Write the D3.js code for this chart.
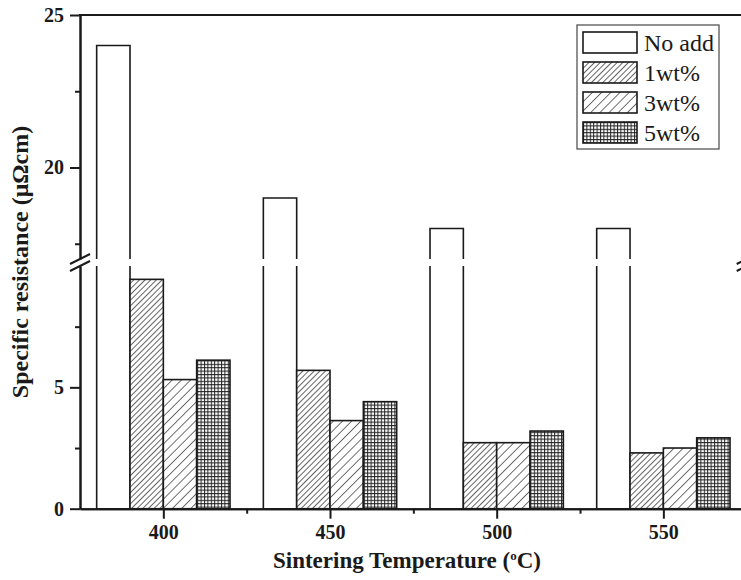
<!DOCTYPE html>
<html>
<head>
<meta charset="utf-8">
<script src="https://cdn.jsdelivr.net/npm/d3@7"></script>
<style>
  body { margin: 0; background: #fff; }
  text { font-family: "Liberation Serif", "Times New Roman", serif; fill: #1a1a1a; }
  .axis text { font-weight: bold; font-size: 20px; }
  .axis path, .axis line { stroke: #1a1a1a; stroke-width: 2; }
</style>
</head>
<body>
<div id="chart"></div>
<script>
// data
const temps = [400, 450, 500, 550];
const seriesNames = ["No add", "1wt%", "3wt%", "5wt%"];
const noAdd = [24.0, 19.0, 18.0, 18.0];
const wt1 = [9.45, 5.7, 2.72, 2.3];
const wt3 = [5.32, 3.63, 2.72, 2.5];
const wt5 = [6.12, 4.41, 3.2, 2.92];
const seriesValues = [noAdd, wt1, wt3, wt5];

const lowTicks = [0, 5];
const lowMinor = [2.5, 7.5];
const highTicks = [20, 25];
const highMinor = [17.5, 22.5];
const xMinor = [425, 475, 525];

const width = 741, height = 580;
const ink = "#1a1a1a";

const svg = d3.select("#chart").append("svg")
  .attr("width", width)
  .attr("height", height);

// patterns for the bar fills
const defs = svg.append("defs");
function hatch(id, gap, sw) {
  const p = defs.append("pattern")
    .attr("id", id)
    .attr("patternUnits", "userSpaceOnUse")
    .attr("width", gap).attr("height", gap)
    .attr("patternTransform", "rotate(45)");
  p.append("rect").attr("width", gap).attr("height", gap).attr("fill", "#fff");
  p.append("line").attr("x1", 0).attr("y1", 0).attr("x2", 0).attr("y2", gap)
    .attr("stroke", "#222").attr("stroke-width", sw);
}
hatch("h1", 4, 1.4);
hatch("h3", 6.5, 1.3);
const grid = defs.append("pattern")
  .attr("id", "g5")
  .attr("patternUnits", "userSpaceOnUse")
  .attr("width", 3.4).attr("height", 3.4);
grid.append("rect").attr("width", 3.4).attr("height", 3.4).attr("fill", "#fff");
grid.append("path").attr("d", "M0,0.5H3.4M0.5,0V3.4")
  .attr("stroke", "#222").attr("stroke-width", 1);
const fills = ["#fff", "url(#h1)", "url(#h3)", "url(#g5)"];

// scales: broken y axis made of two linear pieces
const x = d3.scaleLinear().domain([375, 575]).range([80, 746.7]);
const yLow = d3.scaleLinear().domain([0, 10]).range([508.7, 266]);
const yHigh = d3.scaleLinear().domain([17, 25]).range([259, 15]);
const barW = x(385) - x(375);
const inner = d3.scaleBand().domain(seriesNames).range([-2 * barW, 2 * barW]);

// bars
const bars = [];
seriesValues.forEach((vals, si) => {
  vals.forEach((v, ti) => bars.push({ s: seriesNames[si], si, t: temps[ti], v }));
});

const barG = svg.append("g");
bars.forEach(d => {
  const x0 = x(d.t) + inner(d.s);
  const x1 = x0 + inner.bandwidth();
  if (d.v <= 10) {
    barG.append("rect")
      .attr("x", x0).attr("y", yLow(d.v))
      .attr("width", x1 - x0).attr("height", yLow(0) - yLow(d.v))
      .attr("fill", fills[d.si])
      .attr("stroke", ink).attr("stroke-width", 1.6);
  } else {
    // lower piece: sides only, open at the break
    barG.append("rect")
      .attr("x", x0).attr("y", yLow.range()[1])
      .attr("width", x1 - x0).attr("height", yLow(0) - yLow.range()[1])
      .attr("fill", fills[d.si]);
    barG.append("path")
      .attr("d", `M${x0},${yLow.range()[1]}V${yLow(0)}H${x1}V${yLow.range()[1]}`)
      .attr("fill", "none").attr("stroke", ink).attr("stroke-width", 1.6);
    // upper piece
    barG.append("rect")
      .attr("x", x0).attr("y", yHigh(d.v))
      .attr("width", x1 - x0).attr("height", yHigh.range()[0] - yHigh(d.v))
      .attr("fill", fills[d.si]);
    barG.append("path")
      .attr("d", `M${x0},${yHigh.range()[0]}V${yHigh(d.v)}H${x1}V${yHigh.range()[0]}`)
      .attr("fill", "none").attr("stroke", ink).attr("stroke-width", 1.6);
  }
});

// axes
const left = x.range()[0];
const right = x.range()[1];

svg.append("g").attr("class", "axis")
  .attr("transform", `translate(${left},0)`)
  .call(d3.axisLeft(yLow).tickValues(lowTicks).tickSize(10).tickSizeOuter(0).tickPadding(6));
svg.append("g").attr("class", "axis")
  .attr("transform", `translate(${left},0)`)
  .call(d3.axisLeft(yLow).tickValues(lowMinor).tickSize(5).tickSizeOuter(0).tickFormat(""));
svg.append("g").attr("class", "axis")
  .attr("transform", `translate(${left},0)`)
  .call(d3.axisLeft(yHigh).tickValues(highTicks).tickSize(10).tickSizeOuter(0).tickPadding(6));
svg.append("g").attr("class", "axis")
  .attr("transform", `translate(${left},0)`)
  .call(d3.axisLeft(yHigh).tickValues(highMinor).tickSize(5).tickSizeOuter(0).tickFormat(""));

// right axis (mostly off canvas) and top frame line
svg.append("line")
  .attr("x1", right).attr("x2", right).attr("y1", yHigh.range()[1]).attr("y2", yHigh.range()[0])
  .attr("stroke", ink).attr("stroke-width", 2);
svg.append("line")
  .attr("x1", right).attr("x2", right).attr("y1", yLow.range()[1]).attr("y2", yLow.range()[0])
  .attr("stroke", ink).attr("stroke-width", 2);
svg.append("line")
  .attr("x1", left - 1).attr("x2", right).attr("y1", yHigh(25)).attr("y2", yHigh(25))
  .attr("stroke", ink).attr("stroke-width", 2);

svg.append("g").attr("class", "axis")
  .attr("transform", `translate(0,${yLow(0)})`)
  .call(d3.axisBottom(x).tickValues(temps).tickSize(10).tickSizeOuter(0).tickPadding(6)
    .tickFormat(d3.format("d")));
svg.append("g").attr("class", "axis")
  .attr("transform", `translate(0,${yLow(0)})`)
  .call(d3.axisBottom(x).tickValues(xMinor).tickSize(5).tickSizeOuter(0).tickFormat(""));

// break marks on both vertical axes
[left, right].forEach(ax => {
  [yHigh.range()[0], yLow.range()[1]].forEach(yy => {
    svg.append("line")
      .attr("x1", ax - 10).attr("y1", yy + 5)
      .attr("x2", ax + 10).attr("y2", yy - 5)
      .attr("stroke", ink).attr("stroke-width", 2);
  });
});

// axis titles
svg.append("text")
  .attr("x", 407).attr("y", 568)
  .attr("text-anchor", "middle")
  .style("font-size", "23px").style("font-weight", "bold")
  .html('Sintering Temperature (<tspan dy="-8" font-size="13px">o</tspan><tspan dy="8">C)</tspan>');

svg.append("text")
  .attr("transform", "translate(28,262) rotate(-90)")
  .attr("text-anchor", "middle")
  .style("font-size", "24px").style("font-weight", "bold")
  .text("Specific resistance (\u03bc\u03a9cm)");

// legend
const lg = svg.append("g").attr("transform", "translate(577,25)");
lg.append("rect")
  .attr("width", 142).attr("height", 124)
  .attr("fill", "#fff").attr("stroke", "#555").attr("stroke-width", 1.3);
seriesNames.forEach((name, i) => {
  const row = lg.append("g").attr("transform", `translate(6,${7 + i * 30})`);
  row.append("rect")
    .attr("width", 54).attr("height", 21)
    .attr("fill", fills[i]).attr("stroke", ink).attr("stroke-width", 1.6);
  row.append("text")
    .attr("x", 61).attr("y", 19)
    .style("font-size", "24px")
    .text(name);
});
</script>
</body>
</html>
